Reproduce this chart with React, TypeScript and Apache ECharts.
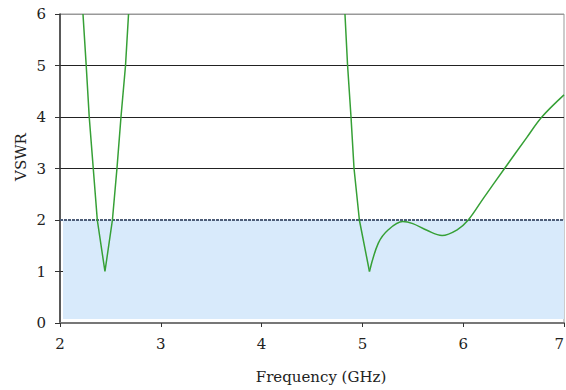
import React, { useEffect, useRef } from "react";
import * as echarts from "echarts";

const xTicks = [2, 3, 4, 5, 6, 7];
const yTicks = [0, 1, 2, 3, 4, 5, 6];

// Band 1 (around 2.4 GHz)
const band1: [number, number][] = [
  [2.228, 6], [2.26, 5], [2.29, 4], [2.33, 3], [2.37, 2], [2.446, 1],
  [2.52, 2], [2.565, 3], [2.605, 4], [2.65, 5], [2.68, 6],
];

// Band 2, steep descent to the 5 GHz minimum
const band2Fall: [number, number][] = [
  [4.827, 6], [4.853, 5], [4.887, 4], [4.917, 3], [4.97, 2], [5.07, 1],
];

// Band 2, rise after the minimum
const band2Rise: [number, number][] = [
  [5.07, 1], [5.158, 1.55], [5.257, 1.81], [5.4, 1.97], [5.5, 1.93],
  [5.64, 1.8], [5.79, 1.7], [5.94, 1.81], [6.05, 2.0], [6.2, 2.42],
  [6.41, 3.0], [6.63, 3.6], [6.78, 4.0], [7.0, 4.43],
];

const limitVSWR = 2;

const FONT = "DejaVu Serif";

export default function App() {
  const ref = useRef<HTMLDivElement>(null);
  useEffect(() => {
    if (!ref.current) return;
    const chart = echarts.init(ref.current, undefined, { renderer: "svg", width: 566, height: 390 });
    const lineStyle = { color: "#36a036", width: 1.5 };
    chart.setOption({
      animation: false,
      grid: {
        left: 60, width: 504, top: 14, height: 309,
        outerBoundsMode: "none", containLabel: false,
        show: true, borderColor: "#999", borderWidth: 1, backgroundColor: "transparent",
      },
      graphic: [
        {
          type: "text",
          x: 21, y: 157, rotation: Math.PI / 2,
          style: {
            text: "VSWR", fill: "#222", font: `15px "${FONT}"`,
            align: "center", verticalAlign: "middle",
          },
        },
      ],
      xAxis: {
        type: "value", min: xTicks[0], max: xTicks[xTicks.length - 1], interval: 1,
        name: "Frequency (GHz)", nameLocation: "middle", nameGap: 46,
        nameTextStyle: { fontFamily: FONT, fontSize: 15, color: "#222", padding: [0, 0, 0, 18] },
        axisLine: { show: true, onZero: false, lineStyle: { color: "#777", width: 2 } },
        axisTick: { show: true, length: 4, lineStyle: { color: "#333" } },
        axisLabel: { fontFamily: FONT, fontSize: 15, color: "#222", margin: 13, alignMaxLabel: "right" },
        splitLine: { show: false },
      },
      yAxis: {
        type: "value", min: yTicks[0], max: yTicks[yTicks.length - 1], interval: 1,
        axisLine: { show: true, lineStyle: { color: "#333", width: 1.5 } },
        axisTick: { show: true, length: 5, lineStyle: { color: "#333" } },
        axisLabel: { fontFamily: FONT, fontSize: 15, color: "#222", margin: 14 },
        splitLine: {
          show: true,
          lineStyle: { color: ["transparent", "#222", "transparent", "#222", "#222", "#222", "#999"], width: 1 },
        },
      },
      series: [
        {
          type: "line", data: band1, showSymbol: false, lineStyle, z: 5,
          markArea: {
            silent: true,
            itemStyle: { color: "#d8eafb" },
            data: [[{ coord: [2.03, 0.08] }, { coord: [7, limitVSWR] }]],
          },
          markLine: {
            silent: true, symbol: "none", label: { show: false },
            lineStyle: { color: "#4d5d78", type: [3, 1], width: 2 },
            data: [{ yAxis: limitVSWR }],
          },
        },
        { type: "line", data: band2Fall, showSymbol: false, lineStyle, z: 5 },
        { type: "line", data: band2Rise, showSymbol: false, smooth: 0.35, lineStyle, z: 5 },
      ],
    });
    return () => chart.dispose();
  }, []);
  return <div ref={ref} style={{ width: 566, height: 390, position: "absolute", left: 0, top: 0 }} />;
}
